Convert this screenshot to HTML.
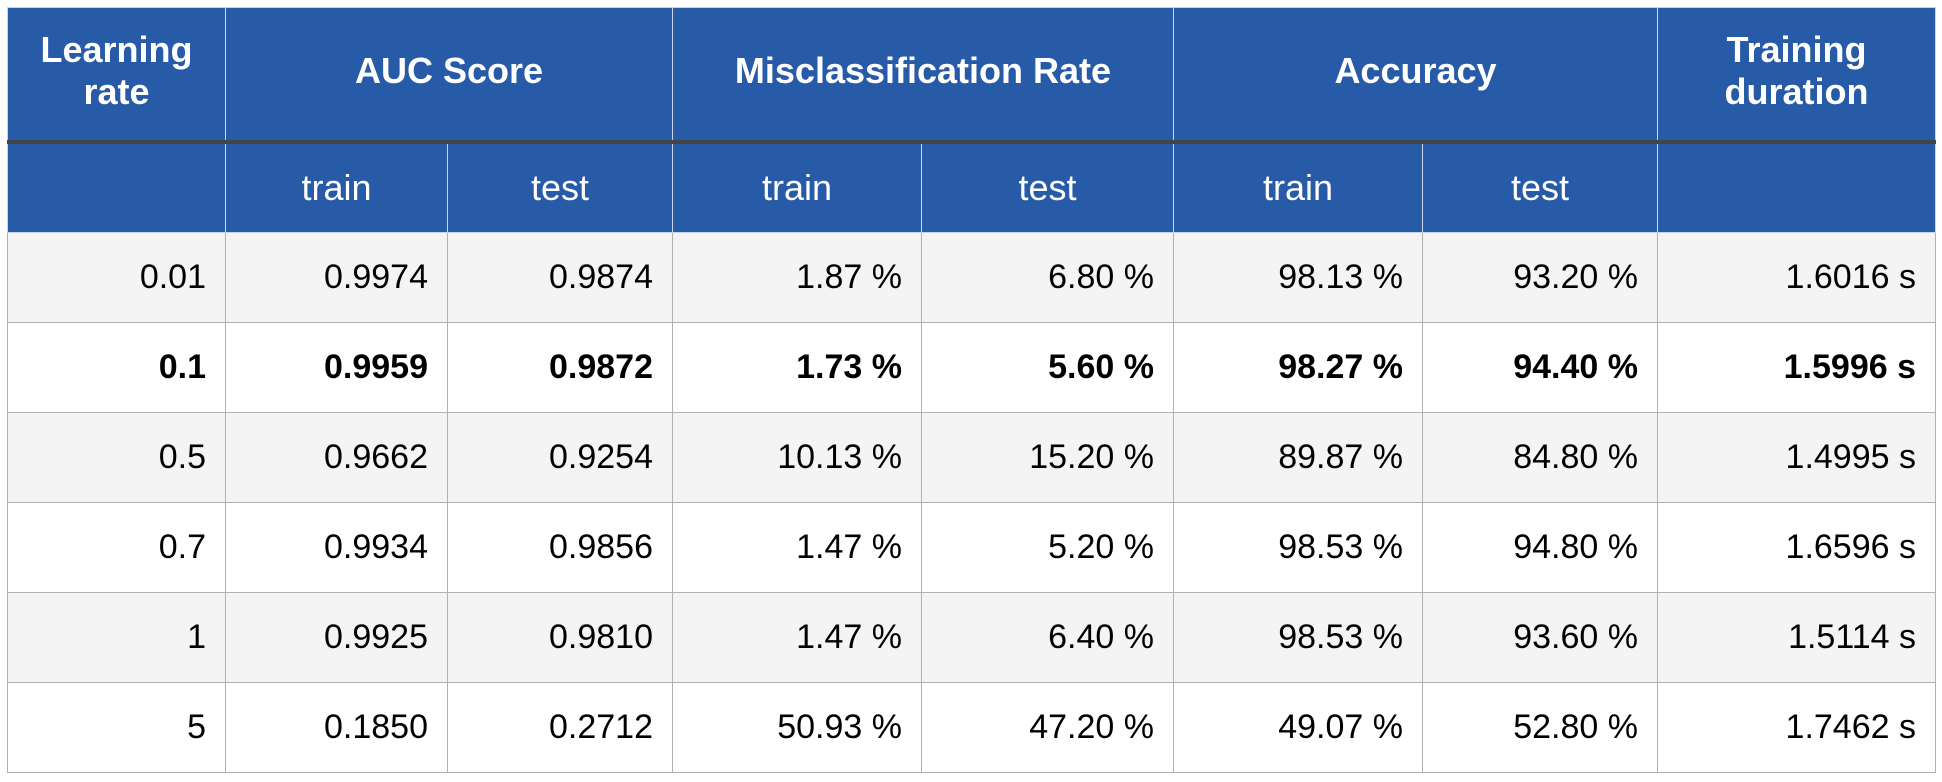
<!DOCTYPE html>
<html><head><meta charset="utf-8"><style>
html,body{margin:0;padding:0;background:#fff;width:1942px;height:782px;overflow:hidden}
table{position:absolute;left:7px;top:7px;border-collapse:collapse;table-layout:fixed;font-family:"Liberation Sans",Arial,sans-serif;}
td,th{border:1.5px solid #b0b0b0;padding:0 19px 0 0;}
th{background:#275aa7;color:#fff;text-align:center;padding:0;border-color:#c8d4e8;}
tr.h1 th{height:126px;font-size:36px;font-weight:bold;line-height:42px;vertical-align:middle;padding-bottom:6px}
tr.h2 th{height:88px;font-size:36px;font-weight:normal;border-top:4px solid #444}
td{height:89px;font-size:34px;text-align:right;color:#000}
tr.odd td{background:#f4f4f4}
tr.bold td{font-weight:bold}
</style></head><body>
<table>
<colgroup><col style="width:218px"><col style="width:222px"><col style="width:225px"><col style="width:249px"><col style="width:252px"><col style="width:249px"><col style="width:235px"><col style="width:278px"></colgroup>
<tr class="h1">
<th>Learning<br>rate</th>
<th colspan="2">AUC Score</th>
<th colspan="2">Misclassification Rate</th>
<th colspan="2">Accuracy</th>
<th>Training<br>duration</th>
</tr>
<tr class="h2">
<th></th><th>train</th><th>test</th><th>train</th><th>test</th><th>train</th><th>test</th><th></th>
</tr>
<tr class="odd"><td>0.01</td><td>0.9974</td><td>0.9874</td><td>1.87 %</td><td>6.80 %</td><td>98.13 %</td><td>93.20 %</td><td>1.6016 s</td></tr>
<tr class="bold"><td>0.1</td><td>0.9959</td><td>0.9872</td><td>1.73 %</td><td>5.60 %</td><td>98.27 %</td><td>94.40 %</td><td>1.5996 s</td></tr>
<tr class="odd"><td>0.5</td><td>0.9662</td><td>0.9254</td><td>10.13 %</td><td>15.20 %</td><td>89.87 %</td><td>84.80 %</td><td>1.4995 s</td></tr>
<tr><td>0.7</td><td>0.9934</td><td>0.9856</td><td>1.47 %</td><td>5.20 %</td><td>98.53 %</td><td>94.80 %</td><td>1.6596 s</td></tr>
<tr class="odd"><td>1</td><td>0.9925</td><td>0.9810</td><td>1.47 %</td><td>6.40 %</td><td>98.53 %</td><td>93.60 %</td><td>1.5114 s</td></tr>
<tr><td>5</td><td>0.1850</td><td>0.2712</td><td>50.93 %</td><td>47.20 %</td><td>49.07 %</td><td>52.80 %</td><td>1.7462 s</td></tr>
</table>
</body></html>
